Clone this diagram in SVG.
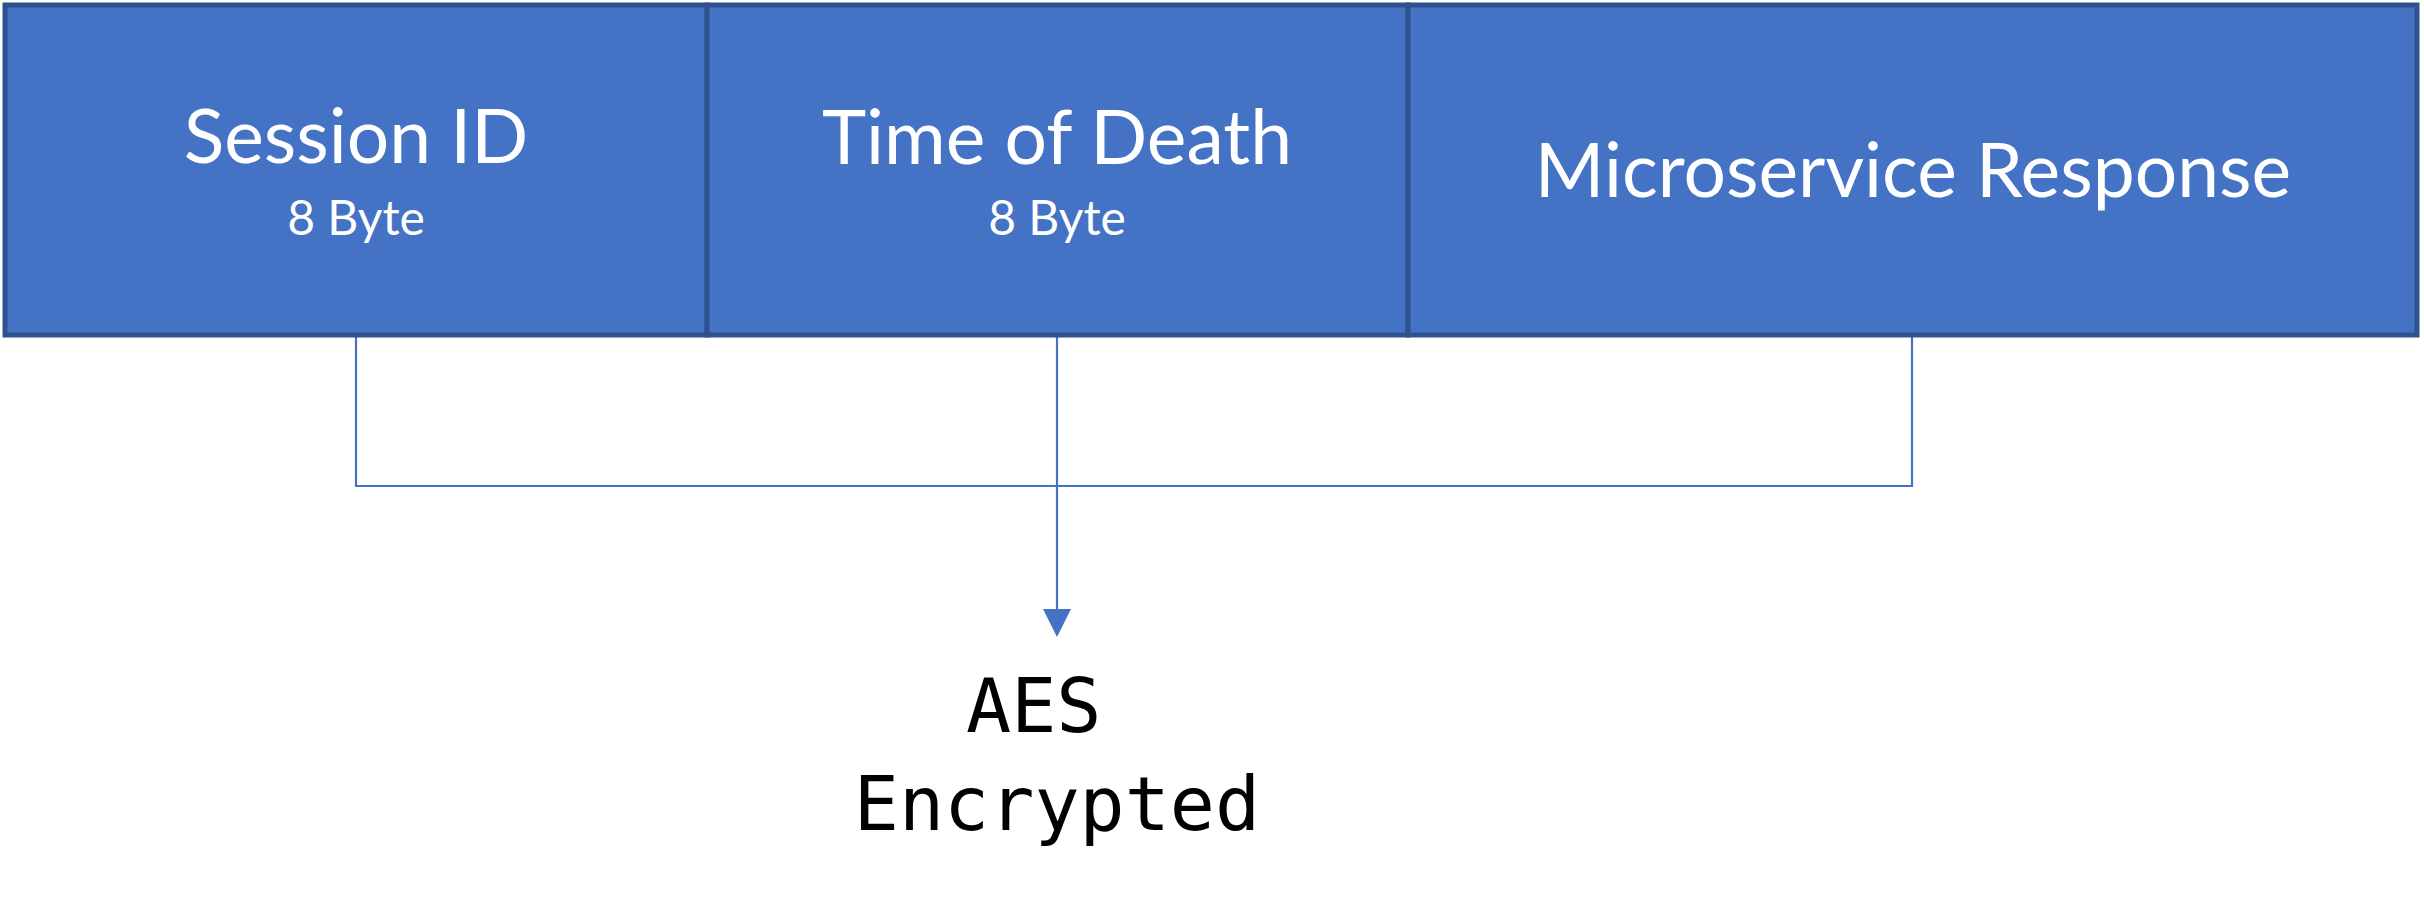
<svg xmlns="http://www.w3.org/2000/svg" width="2424" height="902" viewBox="0 0 2424 902">
  <style>
    .box { fill: #4472C4; stroke: #2F528F; stroke-width: 5; }
    .title { font-family: Lato, "Open Sans", "Liberation Sans", sans-serif; font-size: 75px; fill: #FFFFFF; text-anchor: middle; }
    .sub { font-family: Lato, "Open Sans", "Liberation Sans", sans-serif; font-size: 48px; fill: #FFFFFF; text-anchor: middle; }
    .conn { fill: none; stroke: #4472C4; stroke-width: 2.2; }
    .head { fill: #4472C4; }
    .label { font-family: "DejaVu Sans Mono", "Liberation Mono", monospace; font-size: 75px; fill: #000000; }
  </style>
  <rect width="2424" height="902" fill="#FFFFFF"/>
  <g id="connectors">
    <path class="conn" d="M356,337 V486 H1912 V337"/>
    <path class="conn" d="M1057,337 V612"/>
    <path class="head" d="M1043,609 L1071,609 L1057,637 Z"/>
  </g>
  <g id="session-id">
    <rect class="box" x="5" y="5" width="702" height="330"/>
    <text class="title" x="356" y="163">Session ID</text>
    <text class="sub" x="356" y="235">8 Byte</text>
  </g>
  <g id="time-of-death">
    <rect class="box" x="707" y="5" width="701" height="330"/>
    <text class="title" x="1057" y="164">Time of Death</text>
    <text class="sub" x="1057" y="235">8 Byte</text>
  </g>
  <g id="microservice-response">
    <rect class="box" x="1408" y="5" width="1009" height="330"/>
    <text class="title" x="1913" y="197">Microservice Response</text>
  </g>
  <g id="aes-encrypted">
    <text class="label" x="966" y="732">AES</text>
    <text class="label" x="1057" y="830" text-anchor="middle">Encrypted</text>
  </g>
</svg>
